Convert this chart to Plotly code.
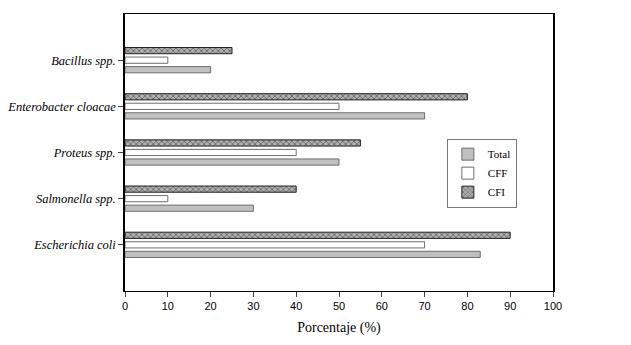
import plotly.graph_objects as go

categories = ["Escherichia coli", "Salmonella spp.", "Proteus spp.", "Enterobacter cloacae", "Bacillus spp."]
total = [83, 30, 50, 70, 20]
cff = [70, 10, 40, 50, 10]
cfi = [90, 40, 55, 80, 25]
x_ticks = [0, 10, 20, 30, 40, 50, 60, 70, 80, 90, 100]

serif = "Liberation Serif, Times New Roman, Times, serif"
sans = "Liberation Sans, Arial, sans-serif"

fig = go.Figure()
fig.add_trace(go.Bar(
    y=categories, x=total, name="Total", orientation="h",
    marker=dict(color="#c0c0c0", line=dict(color="#6e6e6e", width=1)),
))
fig.add_trace(go.Bar(
    y=categories, x=cff, name="CFF", orientation="h",
    marker=dict(color="white", line=dict(color="#6e6e6e", width=1)),
))
fig.add_trace(go.Bar(
    y=categories, x=cfi, name="CFI", orientation="h",
    marker=dict(color="#8a8a8a", line=dict(color="#222222", width=1),
                pattern=dict(shape="x", fgcolor="#222222", bgcolor="#b0b0b0", size=4, solidity=0.4)),
))

fig.update_layout(
    width=631, height=345,
    margin=dict(l=125, r=78, t=14, b=54, autoexpand=False),
    paper_bgcolor="white", plot_bgcolor="white",
    barmode="group", bargap=0.38, bargroupgap=0.35,
    showlegend=True,
    legend=dict(
        x=0.752, y=0.55, xanchor="left", yanchor="top",
        bgcolor="white", bordercolor="#777777", borderwidth=1,
        font=dict(family=serif, size=11, color="black"),
        traceorder="normal", itemwidth=30, tracegroupgap=0,
    ),
    xaxis=dict(
        range=[0, 100], tickvals=x_ticks, ticks="outside", ticklen=5,
        tickcolor="#444", showgrid=False, zeroline=False, automargin=False,
        showline=True, linecolor="black", linewidth=1, mirror=True,
        tickfont=dict(family=sans, size=11, color="black"),
        title=dict(text="Porcentaje (%)", font=dict(family=serif, size=14, color="black"), standoff=10),
    ),
    yaxis=dict(
        range=[-1, 5], ticks="outside", ticklen=5, tickcolor="#444",
        showgrid=False, zeroline=False, automargin=False,
        showline=True, linecolor="black", linewidth=1.5, mirror=True,
        tickfont=dict(family=serif, size=12.5, color="black", style="italic"),
    ),
)

fig.write_html("out.html")
